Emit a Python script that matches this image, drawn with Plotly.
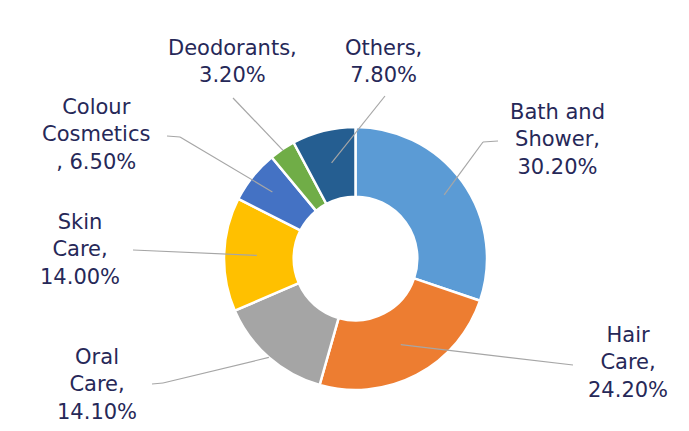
import math
import plotly.graph_objects as go

# ---- data ----
categories = ["Bath and Shower", "Hair Care", "Oral Care", "Skin Care",
              "Colour Cosmetics", "Deodorants", "Others"]
shares = [30.2, 24.2, 14.1, 14.0, 6.5, 3.2, 7.8]
label_names = ["Bath and<br>Shower,", "Hair<br>Care,", "Oral<br>Care,", "Skin<br>Care,",
               "Colour<br>Cosmetics<br>", "Deodorants,", "Others,"]
colors = ["#5B9BD5", "#ED7D31", "#A5A5A5", "#FFC000", "#4472C4", "#70AD47", "#255E91"]

# ---- layout/style ----
W, H = 689, 431
CX, CY, R = 355.5, 258.5, 131.5      # pie centre/radius in px
HOLE = 0.47
# leader-line end radius (fraction of R) for each slice
leader_r = [0.83, 0.74, 1.0, 0.75, 0.81, 0.99, 0.75]
# label centre (px) and optional elbow (px) for each slice
label_pos = [(557, 140), (628, 362), (97, 384), (80, 249), (96, 135), (232, 61), (383, 61)]
elbows = [[(483, 142), (498, 141)], [(573, 365)], [(163, 383), (152, 384)], [(133, 250)],
          [(180, 137), (167, 136)], [(233, 98)], [(385, 96)]]
TEXT_COLOR = "#262858"
LINE_COLOR = "#A6A6A6"
FONT = "DejaVu Sans"
FSIZE = 21

def px(x):
    return x / W

def py(y):
    return 1 - y / H

fig = go.Figure(go.Pie(
    labels=categories,
    values=shares,
    sort=False,
    direction="clockwise",
    rotation=0,
    hole=HOLE,
    marker=dict(colors=colors, line=dict(color="white", width=2.5)),
    textinfo="none",
    hoverinfo="skip",
    showlegend=False,
    domain=dict(x=[px(CX - R), px(CX + R)], y=[py(CY + R), py(CY - R)]),
))

total = sum(shares)
cum = 0.0
shapes = []
annotations = []
for i, v in enumerate(shares):
    mid = (cum + v / 2) / total * 2 * math.pi
    cum += v
    r = leader_r[i] * R
    sx = CX + r * math.sin(mid)
    sy = CY - r * math.cos(mid)
    pts = [(sx, sy)] + elbows[i]
    for (x0, y0), (x1, y1) in zip(pts[:-1], pts[1:]):
        shapes.append(dict(type="line", xref="paper", yref="paper",
                           x0=px(x0), y0=py(y0), x1=px(x1), y1=py(y1),
                           line=dict(color=LINE_COLOR, width=1.2)))
    if label_names[i].endswith("<br>"):
        text = f"{label_names[i]}, {v:.2f}%"
    else:
        text = f"{label_names[i]}<br>{v:.2f}%"
    lx, ly = label_pos[i]
    annotations.append(dict(x=px(lx), y=py(ly), xref="paper", yref="paper",
                            text=text, showarrow=False, align="center",
                            xanchor="center", yanchor="middle",
                            font=dict(family=FONT, size=FSIZE, color=TEXT_COLOR)))

fig.update_layout(
    width=W, height=H,
    margin=dict(l=0, r=0, t=0, b=0),
    paper_bgcolor="white",
    plot_bgcolor="white",
    shapes=shapes,
    annotations=annotations,
)

fig.write_html("out.html")
